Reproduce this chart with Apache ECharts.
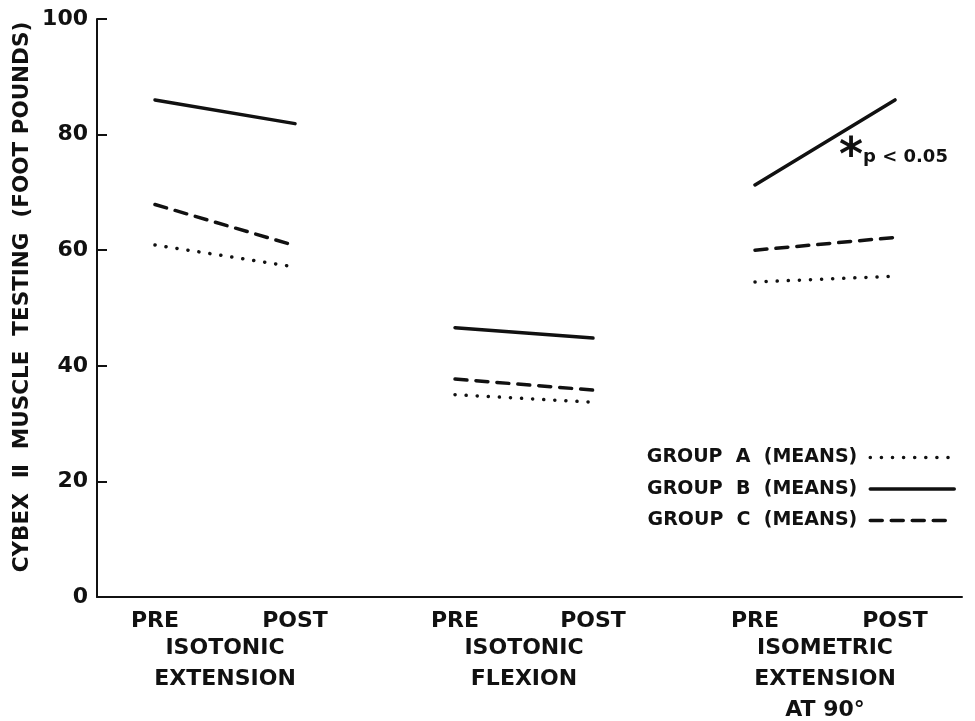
<!DOCTYPE html>
<html>
<head>
<meta charset="utf-8">
<script src="https://cdn.jsdelivr.net/npm/echarts@6/dist/echarts.min.js"></script>
<style>html,body{margin:0;padding:0;background:#fff}#c{width:975px;height:721px}</style>
</head>
<body>
<div id="c"></div>
<script>
// ---- data ----
const sessions = ['PRE', 'POST'];
const tests = ['ISOTONIC\nEXTENSION', 'ISOTONIC\nFLEXION', 'ISOMETRIC\nEXTENSION\nAT 90°'];
const groupNames = ['GROUP  A  (MEANS)', 'GROUP  B  (MEANS)', 'GROUP  C  (MEANS)'];
// values per test: [PRE, POST]
const groupA = [[60.9, 57.1], [35.0, 33.7], [54.5, 55.5]];
const groupB = [[86.0, 81.9], [46.6, 44.8], [71.3, 86.0]];
const groupC = [[67.9, 60.8], [37.7, 35.8], [60.0, 62.2]];
const yMin = 0, yMax = 100, yStep = 20;
const yTitle = 'CYBEX  Ⅱ  MUSCLE  TESTING  (FOOT POUNDS)';
const note = 'p < 0.05';

// ---- styles ----
const FONT = 'DejaVu Sans';
const INK = '#111';
const styles = [
  { type: [0.1, 11], width: 3.5, cap: 'round' },
  { type: 'solid', width: 3.5, cap: 'round' },
  { type: [12, 9], width: 3.5, cap: 'round' }
];
const groupData = [groupA, groupB, groupC];

const chart = echarts.init(document.getElementById('c'), null, { renderer: 'canvas' });

const frame = { left: 97, top: 19, width: 865, height: 578, outerBoundsMode: 'none', containLabel: false };
const dataGrids = [
  { left: 155, top: 19, width: 140, height: 578, outerBoundsMode: 'none', containLabel: false },
  { left: 455, top: 19, width: 138, height: 578, outerBoundsMode: 'none', containLabel: false },
  { left: 755, top: 19, width: 140, height: 578, outerBoundsMode: 'none', containLabel: false }
];

const grids = [frame].concat(dataGrids);
const xAxes = [{
  gridIndex: 0, type: 'value', min: 0, max: 1,
  axisLine: { show: true, onZero: false, lineStyle: { color: INK, width: 2 } },
  axisTick: { show: false }, axisLabel: { show: false }, splitLine: { show: false }
}];
const yAxes = [{
  gridIndex: 0, type: 'value', min: yMin, max: yMax, interval: yStep,
  axisLine: { show: true, lineStyle: { color: INK, width: 2 } },
  axisTick: { show: true, inside: true, length: 10, lineStyle: { color: INK, width: 2 } },
  axisLabel: { color: INK, fontFamily: FONT, fontWeight: 'bold', fontSize: 22, margin: 9 },
  splitLine: { show: false }
}];
tests.forEach((t, i) => {
  xAxes.push({
    gridIndex: i + 1, type: 'category', data: sessions, boundaryGap: false,
    axisLine: { show: false }, axisTick: { show: false }, splitLine: { show: false },
    axisLabel: { color: INK, fontFamily: FONT, fontWeight: 'bold', fontSize: 22, margin: 13, interval: 0 },
    name: t, nameLocation: 'middle', nameGap: 36, nameMoveOverlap: false,
    nameTextStyle: { color: INK, fontFamily: FONT, fontWeight: 'bold', fontSize: 22, lineHeight: 31, align: 'center', verticalAlign: 'top' }
  });
  yAxes.push({
    gridIndex: i + 1, type: 'value', min: yMin, max: yMax, show: false
  });
});

const series = [];
groupData.forEach((g, gi) => {
  g.forEach((vals, ti) => {
    series.push({
      type: 'line', name: groupNames[gi], xAxisIndex: ti + 1, yAxisIndex: ti + 1,
      data: vals, symbol: 'none', showSymbol: false, symbolSize: 0, color: INK,
      lineStyle: Object.assign({ color: INK }, styles[gi])
    });
  });
});

const legendData = groupNames.map((n, i) => ({
  name: n,
  itemStyle: { opacity: 0 },
  lineStyle: Object.assign({ color: INK }, styles[i])
}));

chart.setOption({
  animation: false,
  backgroundColor: '#fff',
  grid: grids,
  xAxis: xAxes,
  yAxis: yAxes,
  legend: {
    data: legendData, orient: 'vertical', right: 14, top: 443,
    align: 'right', itemWidth: 84, itemHeight: 14, itemGap: 12.5,
    itemStyle: { opacity: 0 },
    lineStyle: { width: 3.5 },
    textStyle: { color: INK, fontFamily: FONT, fontWeight: 'bold', fontSize: 19, padding: [0, 8, 0, 0] },
    selectedMode: false
  },
  series: series,
  graphic: [
    { type: 'text', x: 22, y: 297, rotation: Math.PI / 2,
      style: { text: yTitle, fill: INK, font: 'bold 21.5px "' + FONT + '"', textAlign: 'center', textVerticalAlign: 'middle' } },
    { type: 'text', x: 851, y: 158,
      style: { text: '*', fill: INK, font: 'bold 46px "' + FONT + '"', textAlign: 'center', textVerticalAlign: 'middle' } },
    { type: 'text', x: 863, y: 157,
      style: { text: note, fill: INK, font: 'bold 18px "' + FONT + '"', textAlign: 'left', textVerticalAlign: 'middle' } }
  ]
});
</script>
</body>
</html>
